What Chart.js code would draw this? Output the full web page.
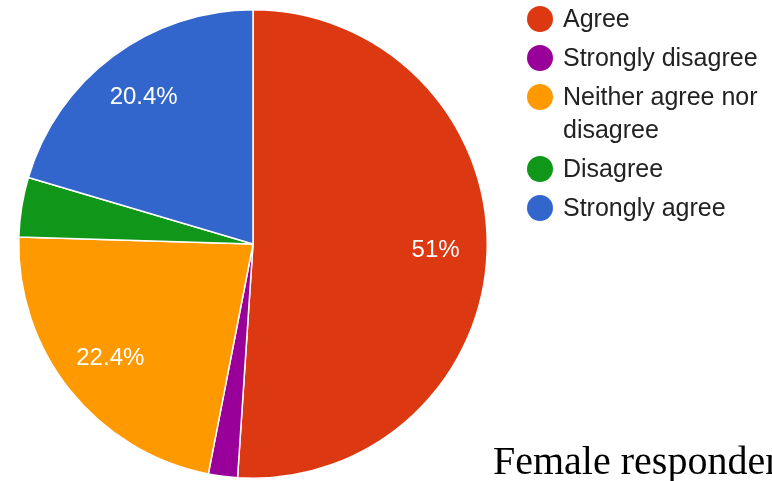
<!DOCTYPE html>
<html>
<head>
<meta charset="utf-8">
<script src="https://cdn.jsdelivr.net/npm/chart.js@4.4.1/dist/chart.umd.min.js"></script>
<style>
  html, body { margin: 0; padding: 0; background: #fff; overflow: hidden; }
  #wrap { position: relative; width: 772px; height: 481px; }
  #myChart { position: absolute; left: 0; top: 0; filter: blur(0.6px); }
  #legend { position: absolute; left: 527px; top: 2px; width: 245px; filter: blur(0.6px);
            font-family: "Liberation Sans", Arial, sans-serif; font-size: 25px; color: #222; }
  .row { position: relative; padding-left: 36px; line-height: 33px; margin-bottom: 6px; width: 205px; }
  .dot { position: absolute; left: 0; top: 4px; width: 26px; height: 26px; border-radius: 50%; }
  #caption { position: absolute; left: 493px; top: 437px; white-space: nowrap;
             font-family: "Liberation Serif", "Times New Roman", serif; font-size: 40px; color: #000; }
</style>
</head>
<body>
<div id="wrap">
  <canvas id="myChart" width="772" height="481"></canvas>
  <div id="legend"></div>
  <div id="caption">Female respondents</div>
</div>
<script>
var labels = ['Agree', 'Strongly disagree', 'Neither agree nor disagree', 'Disagree', 'Strongly agree'];
var percents = [51, 2.0, 22.4, 4.1, 20.4];
var colors = ['#dc3912', '#990099', '#ff9900', '#109618', '#3366cc'];

// percent labels inside the bigger slices
var sliceLabels = {
  id: 'sliceLabels',
  afterDatasetsDraw: function(chart) {
    var ctx = chart.ctx;
    var arcs = chart.getDatasetMeta(0).data;
    ctx.save();
    ctx.font = '24px "Liberation Sans", Arial, sans-serif';
    ctx.fillStyle = '#fff';
    ctx.textAlign = 'center';
    ctx.textBaseline = 'middle';
    arcs.forEach(function(arc, i) {
      if (percents[i] < 5) return;
      var mid = (arc.startAngle + arc.endAngle) / 2;
      var r = arc.outerRadius * 0.78;
      ctx.fillText(percents[i] + '%', arc.x + Math.cos(mid) * r, arc.y + Math.sin(mid) * r);
    });
    ctx.restore();
  }
};

var ctx = document.getElementById('myChart').getContext('2d');
var myChart = new Chart(ctx, {
  type: 'pie',
  data: {
    labels: labels,
    datasets: [{
      data: percents,
      backgroundColor: colors,
      borderColor: '#fff',
      borderWidth: 1.5
    }]
  },
  options: {
    responsive: false,
    animation: false,
    layout: { padding: { left: 18, top: 9, right: 284, bottom: 2 } },
    plugins: {
      legend: { display: false },
      tooltip: { enabled: false }
    }
  },
  plugins: [sliceLabels]
});

// html legend built from the same arrays
var legend = document.getElementById('legend');
labels.forEach(function(name, i) {
  var row = document.createElement('div');
  row.className = 'row';
  var dot = document.createElement('span');
  dot.className = 'dot';
  dot.style.background = colors[i];
  row.appendChild(dot);
  row.appendChild(document.createTextNode(name));
  legend.appendChild(row);
});
</script>
</body>
</html>
